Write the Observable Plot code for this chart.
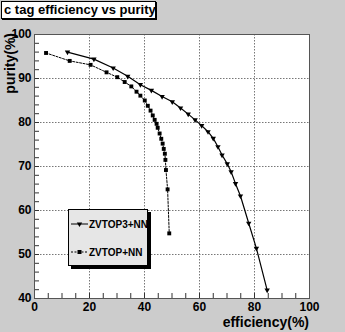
<!DOCTYPE html>
<html><head><meta charset="utf-8">
<script src="https://cdn.jsdelivr.net/npm/d3@7"></script>
<script src="https://cdn.jsdelivr.net/npm/@observablehq/plot@0.6"></script>
<style>
body{margin:0;background:#cccccc;font-family:"Liberation Sans",Arial,Helvetica,sans-serif;}
#wrap{position:relative;width:345px;height:332px;overflow:hidden;background:#cccccc;}
#chart{position:absolute;left:0;top:0;}
#title{position:absolute;left:1px;top:1px;width:151px;height:16px;padding-left:2px;background:#fff;border:1px solid #000;box-shadow:1px 1px 0 #000;font-weight:bold;font-size:13px;line-height:16px;white-space:nowrap;}
#xlabel{position:absolute;right:36px;top:315px;font-weight:bold;font-size:14px;line-height:14px;white-space:nowrap;}
#ylabel{position:absolute;left:0;top:0;width:80px;height:14px;text-align:right;font-weight:bold;font-size:14px;line-height:14px;white-space:nowrap;transform-origin:0 0;transform:translate(3px,113px) rotate(-90deg);}
#legend{position:absolute;left:68px;top:209px;width:78px;height:55px;background:#e6e6e6;border:1px solid #000;box-shadow:3px 3px 0 #000;}
#legend svg{position:absolute;left:0;top:0;}
</style>
</head><body>
<div id="wrap">
  <div id="chart"></div>
  <div id="title">c tag efficiency vs purity</div>
  <div id="ylabel">purity(%)</div>
  <div id="xlabel">efficiency(%)</div>
  <div id="legend"></div>
</div>
<script>
// ZVTOP3+NN (solid, down-triangle markers)
const zvtop3Eff = [12.0,21.6,28.6,33.9,38.5,42.5,46.4,50.1,53.1,55.9,58.4,60.8,63.1,65.0,66.7,68.2,70.1,71.5,73.1,74.9,77.9,80.7,84.6];
const zvtop3Pur = [96.0,94.4,92.4,90.5,88.6,87.3,85.9,84.7,83.3,81.9,80.6,79.3,77.9,76.4,74.5,72.6,70.6,68.8,66.1,63.3,57.1,51.4,41.9];
// ZVTOP+NN (dotted, square markers)
const zvtopEff = [4.2,12.8,20.4,26.2,30.1,32.8,35.2,37.1,38.5,40.1,41.2,42.2,43.0,43.7,44.4,44.8,45.5,46.1,46.6,47.0,47.4,47.6,47.8,48.4,49.0];
const zvtopPur = [95.8,94.0,93.1,91.4,90.3,89.2,88.2,87.0,86.1,85.0,83.8,82.7,81.6,80.6,79.7,78.8,77.5,76.3,75.2,74.0,72.9,71.5,69.2,64.8,54.8];
const seriesNames = ["ZVTOP3+NN","ZVTOP+NN"];
const xTicks = [0,20,40,60,80,100];
const yTicks = [40,50,60,70,80,90,100];
const xGrid = [20,40,60,80];
const yGrid = [50,60,70,80,90];
const xMinor = [0,5,10,15,20,25,30,35,40,45,50,55,60,65,70,75,80,85,90,95,100];
const yMinor = [40,42,44,46,48,50,52,54,56,58,60,62,64,66,68,70,72,74,76,78,80,82,84,86,88,90,92,94,96,98,100];

const zvtop3 = zvtop3Eff.map((e,i)=>({eff:e,pur:zvtop3Pur[i]}));
const zvtop = zvtopEff.map((e,i)=>({eff:e,pur:zvtopPur[i]}));

const chart = Plot.plot({
  width:345, height:332,
  marginLeft:34, marginRight:36, marginTop:34, marginBottom:34,
  style:{background:"transparent", fontFamily:"'Liberation Sans',Arial,sans-serif", fontSize:"12px", fontWeight:"bold", color:"#000", overflow:"visible"},
  x:{domain:[0,100], ticks:xTicks, tickSize:0, tickPadding:4, label:null},
  y:{domain:[40,100], ticks:yTicks, tickSize:0, tickPadding:3, label:null},
  marks:[
    Plot.frame({fill:"white"}),
    Plot.gridX(xGrid, {stroke:"#777", strokeOpacity:1, strokeDasharray:"1.5,1.5"}),
    Plot.gridY(yGrid, {stroke:"#777", strokeOpacity:1, strokeDasharray:"1.5,1.5"}),
    Plot.tickX(xMinor, {x:d=>d, insetTop:259, stroke:"#333"}),
    Plot.tickY(yMinor, {y:d=>d, insetRight:270, stroke:"#333"}),
    Plot.line(zvtop, {x:"eff", y:"pur", stroke:"#000", strokeWidth:1, strokeDasharray:"2,1.5"}),
    Plot.dot(zvtop, {x:"eff", y:"pur", symbol:"square", r:2.2, fill:"#000", stroke:null}),
    Plot.line(zvtop3, {x:"eff", y:"pur", stroke:"#000", strokeWidth:1.2}),
    Plot.dot(zvtop3, {x:"eff", y:"pur", symbol:"triangle", rotate:180, r:2, fill:"#000", stroke:null}),
    Plot.frame({stroke:"#555"})
  ]
});
document.getElementById("chart").appendChild(chart);

// legend
const lg = d3.select("#legend").append("svg").attr("width",78).attr("height",55);
const rows = [{name:seriesNames[0], y:14, dash:null, sym:"tri"},{name:seriesNames[1], y:42, dash:"2,1.5", sym:"sq"}];
rows.forEach(r=>{
  lg.append("line").attr("x1",2).attr("x2",19).attr("y1",r.y).attr("y2",r.y)
    .attr("stroke","#000").attr("stroke-width",1).attr("stroke-dasharray",r.dash);
  if(r.sym==="tri") lg.append("path").attr("d",d3.symbol(d3.symbolTriangle, 12.6)()).attr("transform",`translate(10.5,${r.y}) rotate(180)`).attr("fill","#000");
  else lg.append("rect").attr("x",8.5).attr("y",r.y-2).attr("width",4).attr("height",4).attr("fill","#000");
  lg.append("text").attr("x",20).attr("y",r.y).attr("dy","0.35em").attr("font-size",10).attr("font-weight","bold")
    .attr("font-family","'Liberation Sans',Arial,sans-serif").text(r.name);
});
</script>
</body></html>
